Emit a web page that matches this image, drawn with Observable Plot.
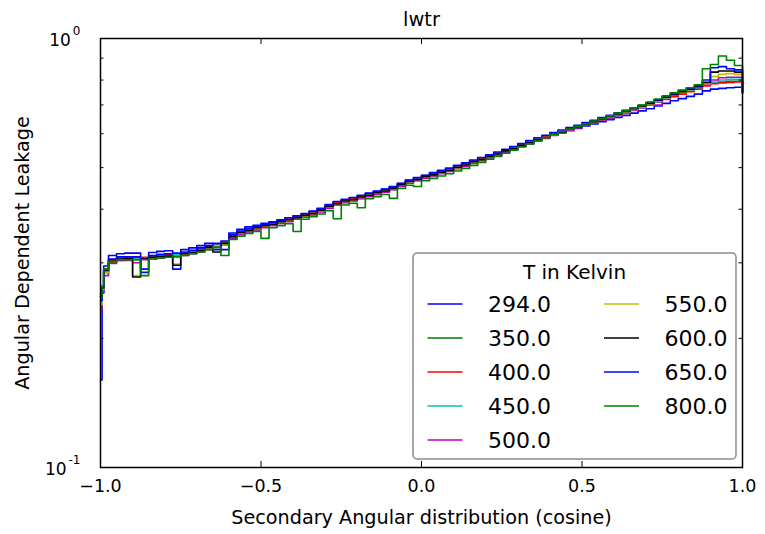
<!DOCTYPE html>
<html>
<head>
<meta charset="utf-8">
<script src="https://cdn.jsdelivr.net/npm/d3@7"></script>
<script src="https://cdn.jsdelivr.net/npm/@observablehq/plot@0.6"></script>
<style>
  html, body { margin: 0; padding: 0; background: #fff; }
  #wrap { position: relative; width: 765px; height: 534px; font-family: "DejaVu Sans", sans-serif; }
  #wrap svg { position: absolute; left: 0; top: 0; }
</style>
</head>
<body>
<div id="wrap"></div>
<script>
const title = "lwtr";
const xLabel = "Secondary Angular distribution (cosine)";
const yLabel = "Angular Dependent Leakage";
const legendTitle = "T in Kelvin";
const temps = ["294.0", "350.0", "400.0", "450.0", "500.0", "550.0", "600.0", "650.0", "800.0"];
const colors = ["#0000ff", "#008000", "#ff0000", "#00bfbf", "#bf00bf", "#bfbf00", "#000000", "#0000ff", "#008000"];
const xTicks = [-1, -0.5, 0, 0.5, 1];
const xTickLabels = ["\u22121.0", "\u22120.5", "0.0", "0.5", "1.0"];
const yMajor = [0.1, 1];
const yMajorExp = ["-1", "0"];
const yMinor = [0.2, 0.3, 0.4, 0.5, 0.6, 0.7, 0.8, 0.9];

const xs = [
  -1.000, -0.995, -0.990, -0.975, -0.950, -0.925, -0.900, -0.875, -0.850, -0.825,
  -0.800, -0.775, -0.750, -0.725, -0.700, -0.675, -0.650, -0.625, -0.600, -0.575,
  -0.550, -0.525, -0.500, -0.475, -0.450, -0.425, -0.400, -0.375, -0.350, -0.325,
  -0.300, -0.275, -0.250, -0.225, -0.200, -0.175, -0.150, -0.125, -0.100, -0.075,
  -0.050, -0.025, 0.000, 0.025, 0.050, 0.075, 0.100, 0.125, 0.150, 0.175,
  0.200, 0.225, 0.250, 0.275, 0.300, 0.325, 0.350, 0.375, 0.400, 0.425,
  0.450, 0.475, 0.500, 0.525, 0.550, 0.575, 0.600, 0.625, 0.650, 0.675,
  0.700, 0.725, 0.750, 0.775, 0.800, 0.825, 0.850, 0.875, 0.900, 0.925,
  0.950, 0.975, 1.000
];
const s294 = [
  0.160, 0.255, 0.295, 0.312, 0.315, 0.316, 0.316, 0.290, 0.317, 0.319,
  0.320, 0.290, 0.322, 0.325, 0.329, 0.333, 0.322, 0.337, 0.352, 0.359,
  0.364, 0.367, 0.371, 0.374, 0.378, 0.382, 0.386, 0.390, 0.395, 0.401,
  0.409, 0.416, 0.421, 0.425, 0.430, 0.435, 0.440, 0.445, 0.451, 0.459,
  0.467, 0.473, 0.479, 0.485, 0.491, 0.497, 0.504, 0.511, 0.518, 0.525,
  0.533, 0.540, 0.548, 0.556, 0.564, 0.572, 0.580, 0.588, 0.596, 0.603,
  0.610, 0.617, 0.625, 0.632, 0.640, 0.647, 0.655, 0.662, 0.670, 0.678,
  0.686, 0.696, 0.706, 0.716, 0.724, 0.733, 0.742, 0.755, 0.762, 0.765,
  0.768, 0.770, 0.745
];
const s350 = [
  0.250, 0.265, 0.285, 0.300, 0.304, 0.305, 0.305, 0.306, 0.307, 0.308,
  0.309, 0.311, 0.313, 0.316, 0.319, 0.323, 0.327, 0.332, 0.343, 0.350,
  0.355, 0.359, 0.363, 0.367, 0.371, 0.375, 0.380, 0.384, 0.389, 0.395,
  0.403, 0.410, 0.415, 0.419, 0.424, 0.429, 0.434, 0.439, 0.445, 0.453,
  0.461, 0.467, 0.473, 0.479, 0.485, 0.491, 0.498, 0.505, 0.513, 0.520,
  0.528, 0.536, 0.544, 0.552, 0.561, 0.569, 0.578, 0.586, 0.595, 0.603,
  0.612, 0.620, 0.629, 0.637, 0.646, 0.654, 0.663, 0.672, 0.681, 0.691,
  0.701, 0.712, 0.723, 0.734, 0.744, 0.754, 0.764, 0.778, 0.787, 0.792,
  0.795, 0.795, 0.750
];
const s400 = [
  0.245, 0.260, 0.290, 0.304, 0.308, 0.308, 0.308, 0.309, 0.310, 0.312,
  0.313, 0.314, 0.316, 0.319, 0.323, 0.327, 0.331, 0.335, 0.347, 0.354,
  0.359, 0.363, 0.367, 0.371, 0.375, 0.379, 0.384, 0.388, 0.393, 0.399,
  0.407, 0.414, 0.419, 0.423, 0.428, 0.433, 0.438, 0.443, 0.449, 0.457,
  0.465, 0.471, 0.477, 0.483, 0.489, 0.495, 0.502, 0.509, 0.517, 0.524,
  0.532, 0.540, 0.548, 0.556, 0.565, 0.573, 0.582, 0.590, 0.599, 0.607,
  0.616, 0.624, 0.633, 0.640, 0.648, 0.656, 0.664, 0.672, 0.681, 0.690,
  0.700, 0.711, 0.721, 0.732, 0.742, 0.752, 0.762, 0.775, 0.785, 0.788,
  0.790, 0.792, 0.750
];
const s450 = [
  0.240, 0.258, 0.285, 0.301, 0.306, 0.307, 0.306, 0.307, 0.309, 0.310,
  0.311, 0.313, 0.314, 0.318, 0.321, 0.325, 0.330, 0.333, 0.345, 0.352,
  0.357, 0.362, 0.365, 0.369, 0.374, 0.377, 0.382, 0.387, 0.391, 0.398,
  0.405, 0.412, 0.418, 0.421, 0.426, 0.432, 0.436, 0.441, 0.448, 0.455,
  0.463, 0.470, 0.475, 0.481, 0.488, 0.493, 0.500, 0.508, 0.515, 0.522,
  0.531, 0.538, 0.546, 0.555, 0.563, 0.571, 0.581, 0.588, 0.597, 0.606,
  0.614, 0.622, 0.632, 0.639, 0.648, 0.657, 0.665, 0.674, 0.684, 0.690,
  0.700, 0.712, 0.724, 0.738, 0.748, 0.758, 0.768, 0.780, 0.792, 0.800,
  0.803, 0.803, 0.750
];
const s500 = [
  0.235, 0.255, 0.280, 0.299, 0.304, 0.304, 0.300, 0.305, 0.306, 0.308,
  0.309, 0.310, 0.312, 0.315, 0.318, 0.322, 0.326, 0.330, 0.342, 0.349,
  0.354, 0.358, 0.362, 0.366, 0.370, 0.374, 0.379, 0.383, 0.388, 0.394,
  0.402, 0.409, 0.414, 0.418, 0.423, 0.428, 0.433, 0.438, 0.444, 0.452,
  0.460, 0.466, 0.472, 0.478, 0.484, 0.490, 0.497, 0.504, 0.512, 0.519,
  0.527, 0.535, 0.543, 0.551, 0.560, 0.568, 0.577, 0.585, 0.594, 0.602,
  0.611, 0.619, 0.628, 0.636, 0.645, 0.653, 0.662, 0.671, 0.680, 0.690,
  0.702, 0.700, 0.722, 0.738, 0.750, 0.760, 0.770, 0.780, 0.800, 0.810,
  0.812, 0.812, 0.750
];
const s550 = [
  0.240, 0.260, 0.285, 0.301, 0.306, 0.306, 0.280, 0.307, 0.308, 0.310,
  0.311, 0.298, 0.314, 0.317, 0.321, 0.325, 0.329, 0.331, 0.345, 0.352,
  0.357, 0.361, 0.365, 0.369, 0.373, 0.377, 0.382, 0.386, 0.391, 0.397,
  0.405, 0.412, 0.417, 0.421, 0.426, 0.431, 0.436, 0.441, 0.447, 0.455,
  0.463, 0.469, 0.475, 0.481, 0.487, 0.493, 0.500, 0.507, 0.515, 0.522,
  0.530, 0.538, 0.546, 0.554, 0.563, 0.571, 0.580, 0.588, 0.597, 0.605,
  0.614, 0.622, 0.631, 0.639, 0.648, 0.656, 0.665, 0.674, 0.683, 0.693,
  0.704, 0.716, 0.728, 0.740, 0.750, 0.760, 0.770, 0.785, 0.815, 0.825,
  0.828, 0.825, 0.750
];
const s600 = [
  0.250, 0.262, 0.288, 0.302, 0.306, 0.307, 0.278, 0.307, 0.309, 0.310,
  0.311, 0.296, 0.315, 0.317, 0.321, 0.326, 0.318, 0.333, 0.345, 0.353,
  0.357, 0.362, 0.366, 0.369, 0.374, 0.378, 0.382, 0.387, 0.391, 0.398,
  0.406, 0.412, 0.418, 0.421, 0.427, 0.431, 0.437, 0.441, 0.448, 0.456,
  0.464, 0.469, 0.476, 0.481, 0.488, 0.493, 0.501, 0.507, 0.516, 0.522,
  0.531, 0.538, 0.547, 0.554, 0.564, 0.571, 0.581, 0.588, 0.598, 0.605,
  0.615, 0.622, 0.632, 0.640, 0.649, 0.658, 0.667, 0.676, 0.686, 0.696,
  0.706, 0.718, 0.730, 0.741, 0.752, 0.762, 0.772, 0.790, 0.835, 0.840,
  0.840, 0.835, 0.750
];
const s650 = [
  0.245, 0.262, 0.290, 0.306, 0.310, 0.310, 0.310, 0.285, 0.312, 0.314,
  0.315, 0.316, 0.318, 0.321, 0.325, 0.329, 0.333, 0.322, 0.349, 0.356,
  0.361, 0.365, 0.369, 0.373, 0.377, 0.382, 0.386, 0.391, 0.396, 0.402,
  0.410, 0.417, 0.422, 0.426, 0.431, 0.436, 0.441, 0.446, 0.452, 0.460,
  0.468, 0.474, 0.480, 0.487, 0.493, 0.499, 0.506, 0.513, 0.521, 0.528,
  0.536, 0.544, 0.552, 0.560, 0.569, 0.578, 0.587, 0.595, 0.604, 0.612,
  0.620, 0.628, 0.637, 0.645, 0.654, 0.662, 0.671, 0.680, 0.689, 0.699,
  0.709, 0.720, 0.732, 0.744, 0.756, 0.766, 0.776, 0.800, 0.855, 0.860,
  0.850, 0.845, 0.745
];
const s800 = [
  0.250, 0.265, 0.290, 0.302, 0.305, 0.305, 0.305, 0.280, 0.306, 0.308,
  0.309, 0.310, 0.312, 0.315, 0.318, 0.322, 0.326, 0.312, 0.340, 0.346,
  0.351, 0.355, 0.342, 0.362, 0.366, 0.370, 0.355, 0.379, 0.384, 0.390,
  0.397, 0.380, 0.409, 0.413, 0.403, 0.423, 0.428, 0.433, 0.424, 0.447,
  0.455, 0.452, 0.466, 0.472, 0.478, 0.484, 0.491, 0.498, 0.506, 0.514,
  0.523, 0.531, 0.540, 0.549, 0.559, 0.568, 0.578, 0.587, 0.597, 0.606,
  0.615, 0.624, 0.633, 0.642, 0.651, 0.660, 0.670, 0.679, 0.689, 0.700,
  0.711, 0.723, 0.735, 0.747, 0.758, 0.768, 0.780, 0.850, 0.870, 0.910,
  0.890, 0.865, 0.750
];
const seriesValues = [s294, s350, s400, s450, s500, s550, s600, s650, s800];

// layout
const W = 765, H = 534;
const mL = 100, mR = 23, mT = 38, mB = 67;
const innerW = W - mL - mR, innerH = H - mT - mB;
const majorLen = 6, minorLen = 3.5;
const font = "DejaVu Sans, sans-serif";
const expSize = 12;
const glyphEm = {"0": 0.636, "1": 0.636, "-": 0.361};
const expWidth = s => [...s].reduce((a, c) => a + (glyphEm[c] || 0.6), 0) * expSize;

const lineMarks = seriesValues.map((vals, i) =>
  Plot.line(xs.map((x, j) => ({x, y: vals[j]})), {
    x: "x", y: "y", stroke: colors[i], strokeWidth: 1.6, curve: "step-after"
  })
);

const yTickLabelMarks = yMajor.flatMap((v, i) => [
  Plot.text([v], {y: d => d, frameAnchor: "left", dx: -22 - expWidth(yMajorExp[i]), dy: 2,
    text: () => "10", fontSize: 17, fill: "black", textAnchor: "end", lineAnchor: "middle"}),
  Plot.text([v], {y: d => d, frameAnchor: "left", dx: -20, dy: -7,
    text: () => yMajorExp[i], fontSize: expSize, fill: "black", textAnchor: "end", lineAnchor: "middle"})
]);

const chart = Plot.plot({
  width: W, height: H,
  marginLeft: mL, marginRight: mR, marginTop: mT, marginBottom: mB,
  style: {fontFamily: font, background: "transparent"},
  x: {domain: [-1, 1], axis: null},
  y: {type: "log", domain: [0.1, 1], axis: null},
  marks: [
    ...lineMarks,
    Plot.tickX(xTicks, {x: d => d, insetTop: innerH - majorLen, stroke: "black", strokeWidth: 1}),
    Plot.tickX(xTicks, {x: d => d, insetBottom: innerH - majorLen, stroke: "black", strokeWidth: 1}),
    Plot.tickY(yMinor, {y: d => d, insetRight: innerW - minorLen, stroke: "black", strokeWidth: 1}),
    Plot.tickY(yMinor, {y: d => d, insetLeft: innerW - minorLen, stroke: "black", strokeWidth: 1}),
    Plot.frame({stroke: "black", strokeWidth: 1.5}),
    Plot.text(xTicks, {x: d => d, frameAnchor: "bottom", dy: 19, text: (d, i) => xTickLabels[i],
      fontSize: 17.5, fill: "black", textAnchor: "middle", lineAnchor: "middle"}),
    ...yTickLabelMarks,
    Plot.text([title], {frameAnchor: "top", dy: -19, text: d => d, fontSize: 19.4, fill: "black",
      textAnchor: "middle", lineAnchor: "middle"}),
    Plot.text([xLabel], {frameAnchor: "bottom", dy: 50, text: d => d, fontSize: 19.2, fill: "black",
      textAnchor: "middle", lineAnchor: "middle"}),
    Plot.text([yLabel], {frameAnchor: "left", dx: -78, rotate: -90, text: d => d, fontSize: 19.2,
      fill: "black", textAnchor: "middle", lineAnchor: "middle"})
  ]
});

const wrap = document.getElementById("wrap");
wrap.appendChild(chart);

// legend overlay (inside the axes, lower right)
const box = {x: 413, y: 253, w: 323, h: 206};
const leg = d3.select(wrap).append("svg")
  .attr("width", W).attr("height", H)
  .style("font-family", font);
leg.append("rect")
  .attr("x", box.x).attr("y", box.y).attr("width", box.w).attr("height", box.h)
  .attr("rx", 4).attr("fill", "white").attr("stroke", "#8c8c8c").attr("stroke-width", 1.5);
leg.append("text")
  .attr("x", box.x + box.w / 2).attr("y", box.y + 19).attr("dy", "0.35em")
  .attr("text-anchor", "middle").attr("font-size", 20).text(legendTitle);
temps.forEach((t, i) => {
  const col = i < 5 ? 0 : 1, row = i % 5;
  const lx = box.x + 14.5 + col * 176.5;
  const cy = box.y + 51 + row * 34;
  leg.append("line").attr("x1", lx).attr("x2", lx + 35).attr("y1", cy).attr("y2", cy)
    .attr("stroke", colors[i]).attr("stroke-width", 1.6);
  leg.append("text").attr("x", lx + 60.5).attr("y", cy).attr("dy", "0.36em")
    .attr("font-size", 22).attr("fill", "black").text(t);
});
</script>
</body>
</html>
